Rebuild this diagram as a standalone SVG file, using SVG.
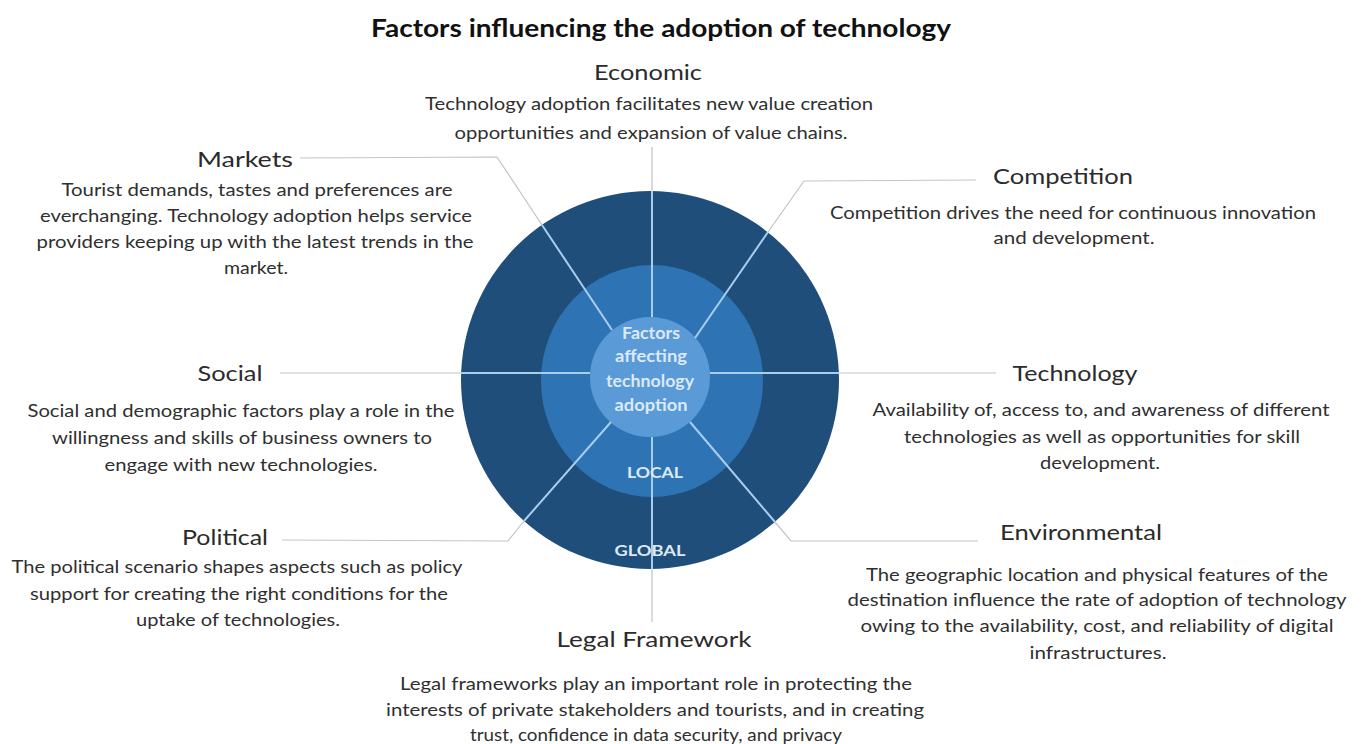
<svg xmlns="http://www.w3.org/2000/svg" width="1366" height="744" viewBox="0 0 1366 744">
  <style>
    .title { font-family: Lato, "Open Sans", sans-serif; font-weight: bold; font-size: 25px; fill: #111; }
    .head { font-family: Lato, "Open Sans", sans-serif; font-size: 22px; fill: #2b2b2b; }
    .body { font-family: Lato, "Open Sans", sans-serif; font-size: 17px; fill: #2f2f2f; }
    .core { font-family: Lato, "Open Sans", sans-serif; font-weight: bold; font-size: 17px; fill: #dce9f6; }
    .ring { font-family: Lato, "Open Sans", sans-serif; font-weight: bold; font-size: 16px; fill: #dce9f6; }
    .leader { stroke: #c4c4c4; stroke-width: 1.2; fill: none; }
    .spoke { stroke: #a9cdee; stroke-width: 2; fill: none; }
    text { text-anchor: middle; }
  </style>

  <rect width="1366" height="744" fill="#ffffff"/>

  <text class="title" x="661" y="37" textLength="580" lengthAdjust="spacingAndGlyphs">Factors influencing the adoption of technology</text>

  <!-- concentric rings -->
  <g id="rings">
    <circle id="ring-global" cx="650" cy="380" r="189" fill="#1f4e7b"/>
    <ellipse id="ring-local" cx="652" cy="381" rx="111" ry="116" fill="#2e74b5"/>
    <circle id="ring-core" cx="650" cy="377" r="60" fill="#5a9ad6"/>
  </g>

  <!-- connectors: grey leaders outside, light spokes inside the rings -->
  <g id="connectors">
    <!-- Economic -->
    <line class="leader" x1="652" y1="147" x2="652" y2="191"/>
    <line class="spoke" x1="652" y1="191" x2="652" y2="317"/>
    <!-- Legal Framework -->
    <line class="spoke" x1="652" y1="437" x2="652" y2="569"/>
    <line class="leader" x1="652" y1="569" x2="652" y2="622"/>
    <!-- Social -->
    <line class="leader" x1="280" y1="373" x2="461" y2="373"/>
    <line class="spoke" x1="461" y1="373" x2="590" y2="373"/>
    <!-- Technology -->
    <line class="spoke" x1="710" y1="373" x2="839" y2="373"/>
    <line class="leader" x1="839" y1="373" x2="996" y2="373"/>
    <!-- Markets -->
    <polyline class="leader" points="300,158 497,157 542,225"/>
    <line class="spoke" x1="542" y1="225" x2="612" y2="330"/>
    <!-- Competition -->
    <polyline class="leader" points="976,180 804,181 768,232"/>
    <line class="spoke" x1="768" y1="232" x2="695" y2="338"/>
    <!-- Political -->
    <polyline class="leader" points="282,540 508,541 524,521"/>
    <line class="spoke" x1="524" y1="521" x2="611" y2="422"/>
    <!-- Environmental -->
    <polyline class="leader" points="978,541 791,541 775,522"/>
    <line class="spoke" x1="775" y1="522" x2="690" y2="422"/>
  </g>

  <g id="center-labels">
    <text class="core" x="651" y="339" textLength="58" lengthAdjust="spacingAndGlyphs">Factors</text>
    <text class="core" x="651" y="362" textLength="72" lengthAdjust="spacingAndGlyphs">affecting</text>
    <text class="core" x="650" y="387" textLength="88" lengthAdjust="spacingAndGlyphs">technology</text>
    <text class="core" x="651" y="411" textLength="73" lengthAdjust="spacingAndGlyphs">adoption</text>
    <text class="ring" x="655" y="478" textLength="56" lengthAdjust="spacingAndGlyphs">LOCAL</text>
    <text class="ring" x="650" y="556" textLength="71" lengthAdjust="spacingAndGlyphs">GLOBAL</text>
  </g>

  <g id="economic">
    <text class="head" x="648" y="80" textLength="108" lengthAdjust="spacingAndGlyphs">Economic</text>
    <text class="body" x="649" y="110" textLength="448" lengthAdjust="spacingAndGlyphs">Technology adoption facilitates new value creation</text>
    <text class="body" x="651" y="139" textLength="393" lengthAdjust="spacingAndGlyphs">opportunities and expansion of value chains.</text>
  </g>

  <g id="markets">
    <text class="head" x="245" y="167" textLength="96" lengthAdjust="spacingAndGlyphs">Markets</text>
    <text class="body" x="257" y="196" textLength="391" lengthAdjust="spacingAndGlyphs">Tourist demands, tastes and preferences are</text>
    <text class="body" x="256" y="222" textLength="432" lengthAdjust="spacingAndGlyphs">everchanging. Technology adoption helps service</text>
    <text class="body" x="255" y="248" textLength="437" lengthAdjust="spacingAndGlyphs">providers keeping up with the latest trends in the</text>
    <text class="body" x="256" y="274" textLength="64" lengthAdjust="spacingAndGlyphs">market.</text>
  </g>

  <g id="competition">
    <text class="head" x="1063" y="184" textLength="140" lengthAdjust="spacingAndGlyphs">Competition</text>
    <text class="body" x="1073" y="219" textLength="486" lengthAdjust="spacingAndGlyphs">Competition drives the need for continuous innovation</text>
    <text class="body" x="1074" y="244" textLength="161" lengthAdjust="spacingAndGlyphs">and development.</text>
  </g>

  <g id="social">
    <text class="head" x="230" y="381" textLength="65" lengthAdjust="spacingAndGlyphs">Social</text>
    <text class="body" x="241" y="417" textLength="427" lengthAdjust="spacingAndGlyphs">Social and demographic factors play a role in the</text>
    <text class="body" x="242" y="444" textLength="380" lengthAdjust="spacingAndGlyphs">willingness and skills of business owners to</text>
    <text class="body" x="241" y="471" textLength="273" lengthAdjust="spacingAndGlyphs">engage with new technologies.</text>
  </g>

  <g id="technology">
    <text class="head" x="1075" y="381" textLength="125" lengthAdjust="spacingAndGlyphs">Technology</text>
    <text class="body" x="1101" y="416" textLength="457" lengthAdjust="spacingAndGlyphs">Availability of, access to, and awareness of different</text>
    <text class="body" x="1102" y="443" textLength="396" lengthAdjust="spacingAndGlyphs">technologies as well as opportunities for skill</text>
    <text class="body" x="1100" y="469" textLength="120" lengthAdjust="spacingAndGlyphs">development.</text>
  </g>

  <g id="political">
    <text class="head" x="225" y="545" textLength="86" lengthAdjust="spacingAndGlyphs">Political</text>
    <text class="body" x="237" y="573" textLength="451" lengthAdjust="spacingAndGlyphs">The political scenario shapes aspects such as policy</text>
    <text class="body" x="239" y="600" textLength="418" lengthAdjust="spacingAndGlyphs">support for creating the right conditions for the</text>
    <text class="body" x="238" y="626" textLength="204" lengthAdjust="spacingAndGlyphs">uptake of technologies.</text>
  </g>

  <g id="environmental">
    <text class="head" x="1081" y="540" textLength="162" lengthAdjust="spacingAndGlyphs">Environmental</text>
    <text class="body" x="1097" y="581" textLength="462" lengthAdjust="spacingAndGlyphs">The geographic location and physical features of the</text>
    <text class="body" x="1097" y="606" textLength="499" lengthAdjust="spacingAndGlyphs">destination influence the rate of adoption of technology</text>
    <text class="body" x="1097" y="632" textLength="473" lengthAdjust="spacingAndGlyphs">owing to the availability, cost, and reliability of digital</text>
    <text class="body" x="1098" y="659" textLength="137" lengthAdjust="spacingAndGlyphs">infrastructures.</text>
  </g>

  <g id="legal-framework">
    <text class="head" x="654" y="647" textLength="195" lengthAdjust="spacingAndGlyphs">Legal Framework</text>
    <text class="body" x="656" y="690" textLength="512" lengthAdjust="spacingAndGlyphs">Legal frameworks play an important role in protecting the</text>
    <text class="body" x="655" y="716" textLength="538" lengthAdjust="spacingAndGlyphs">interests of private stakeholders and tourists, and in creating</text>
    <text class="body" x="656" y="741" textLength="372" lengthAdjust="spacingAndGlyphs">trust, confidence in data security, and privacy</text>
  </g>
</svg>
